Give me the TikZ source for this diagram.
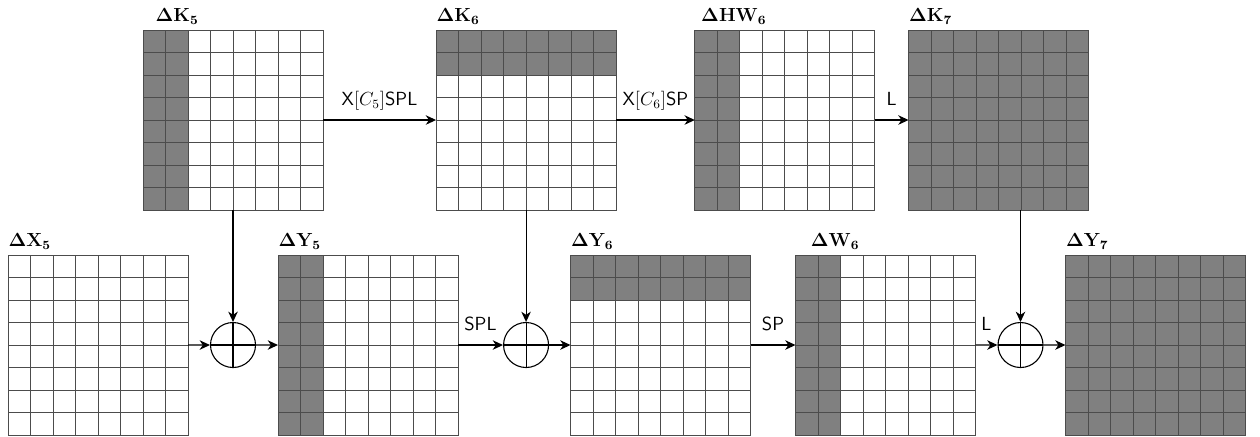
\documentclass[tikz,border=0pt]{standalone}
\usepackage{tikz}
\usetikzlibrary{positioning,calc,arrows.meta}

\tikzset{
    state/.style={rectangle, minimum size=4cm, inner sep=0pt, outer sep=0pt},
    active/.style={fill=gray},
    cell/.style={draw=black!70, line width=0.6pt},
    title/.style={anchor=south west, inner xsep=0pt, font=\large},
    xorop/.style={circle, draw, minimum size=1cm, inner sep=0pt, path picture={
        \draw (path picture bounding box.north) -- (path picture bounding box.south)
              (path picture bounding box.west) -- (path picture bounding box.east);}}
}

\begin{document}
\begin{tikzpicture}[line width=0.7pt, >={Stealth[length=6.5pt, width=6pt, inset=2pt]},
    flow/.style={->},
    lbl/.style={above=4pt, font=\large\sffamily, inner sep=2pt, text depth=0.3em}]
    \useasboundingbox (0,0) rectangle (28,-9.689);

    % bottom row
    \node[state] (X5) at (2.178,-7.667) {};
    \node[state, right=2cm of X5] (Y5) {};
    \node[state, right=2.5cm of Y5] (Y6) {};
    \node[state, right=1cm of Y6] (W6) {};
    \node[state, right=2cm of W6] (Y7) {};

    \node[xorop] (c1) at ($(X5.east)!0.5!(Y5.west)$) {};
    \node[xorop, right=1cm of Y5] (c2) {};
    \node[xorop] (c3) at ($(W6.east)!0.5!(Y7.west)$) {};

    % top row
    \coordinate (k5base) at (c1 |- X5.north);
    \coordinate (k6base) at (c2 |- X5.north);
    \node[state, above=1cm of k5base] (K5) {};
    \node[state, above=1cm of k6base] (K6) {};
    \node[state, right=1.75cm of K6] (HW6) {};
    \node[state, right=0.75cm of HW6] (K7) {};

    % active cells
    \foreach \g in {K5,HW6,Y5,W6}
        \fill[active] (\g.north west) rectangle ([xshift=1cm]\g.south west);
    \foreach \g in {K6,Y6}
        \fill[active] (\g.north west) rectangle ([yshift=-1cm]\g.north east);
    \foreach \g in {K7,Y7}
        \fill[active] (\g.north west) rectangle (\g.south east);

    % 8x8 grids
    \foreach \g in {K5,K6,HW6,K7,X5,Y5,Y6,W6,Y7}{
        \foreach \i in {1,...,7}{
            \draw[cell] ($(\g.south west)!\i/8!(\g.south east)$) -- ($(\g.north west)!\i/8!(\g.north east)$);
            \draw[cell] ($(\g.south west)!\i/8!(\g.north west)$) -- ($(\g.south east)!\i/8!(\g.north east)$);
        }
        \draw[cell] (\g.south west) rectangle (\g.north east);
    }

    % titles
    \node[title, xshift=0.27cm] (K5t) at (K5.north west) {$\mathbf{\Delta K_5}$};
    \node[title] (K6t) at (K6.north west) {$\mathbf{\Delta K_6}$};
    \node[title, xshift=0.13cm] (HW6t) at (HW6.north west) {$\mathbf{\Delta HW_6}$};
    \node[title] (K7t) at (K7.north west) {$\mathbf{\Delta K_7}$};
    \node[title] (X5t) at (X5.north west) {$\mathbf{\Delta X_5}$};
    \node[title] (Y5t) at (Y5.north west) {$\mathbf{\Delta Y_5}$};
    \node[title] (Y6t) at (Y6.north west) {$\mathbf{\Delta Y_6}$};
    \node[title, xshift=0.33cm] (W6t) at (W6.north west) {$\mathbf{\Delta W_6}$};
    \node[title] (Y7t) at (Y7.north west) {$\mathbf{\Delta Y_7}$};

    % key schedule
    \draw[flow] (K5) -- node[lbl] {X$[C_5]$SPL} (K6);
    \draw[flow] (K6) -- node[lbl] {X$[C_6]$SP} (HW6);
    \draw[flow] (HW6) -- node[lbl] {L} (K7);

    % key addition
    \draw[flow] (K5) -- (c1);
    \draw[flow] (K6) -- (c2);
    \draw[flow] (K7.south -| c3) -- (c3);

    % state path
    \draw[flow] (X5) -- (c1);
    \draw[flow] (c1) -- (Y5);
    \draw[flow] (Y5) -- node[lbl] {SPL} (c2);
    \draw[flow] (c2) -- (Y6);
    \draw[flow] (Y6) -- node[lbl] {SP} (W6);
    \draw[flow] (W6) -- node[lbl] {L} (c3);
    \draw[flow] (c3) -- (Y7);
\end{tikzpicture}
\end{document}
